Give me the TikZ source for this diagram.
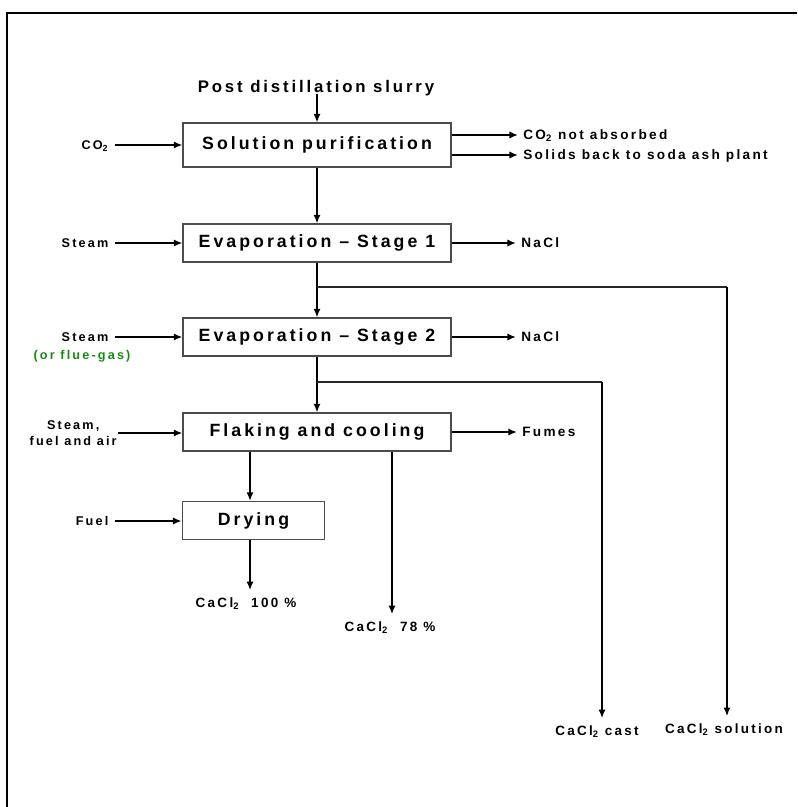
\documentclass[tikz,border=0pt]{standalone}
\usepackage{fontspec}
\setmainfont{Liberation Sans}
\newfontfamily\spaced[LetterSpace=17]{Liberation Sans}
\usetikzlibrary{arrows.meta}
\definecolor{fluegreen}{RGB}{20,140,20}

\begin{document}
\begin{tikzpicture}[
  x=0.75pt,y=-0.75pt,
  flow/.style={draw=black,line width=1.7pt,-{Latex[length=6.5pt,width=5.5pt]}},
  branch/.style={draw=black!85,line width=0.9pt},
  unit/.style={draw=black!70,line width=0.8pt,fill=white,minimum width=201pt,minimum height=28.5pt,inner sep=0pt,font=\spaced\bfseries\fontsize{13.3}{15}\selectfont},
  title/.style={font=\spaced\bfseries\fontsize{12.6}{15}\selectfont,inner sep=1pt,text height=0.72em,text depth=0pt},
  label/.style={font=\spaced\bfseries\fontsize{9.5}{12}\selectfont,inner sep=1pt,text height=0.72em,text depth=0pt},
  inlabel/.style={label,anchor=east,outer sep=4pt},
  outlabel/.style={label,anchor=west,outer sep=3pt,font=\spaced\bfseries\fontsize{10.2}{12}\selectfont},
  product/.style={label,outer sep=5pt,font=\spaced\bfseries\fontsize{10.1}{12}\selectfont},
]
\useasboundingbox (0,0) rectangle (797,807);
\draw[line width=1.7pt] (7,807) -- (7,13) -- (797,13);

% process units
\node[title] (slurry) at (316,88) {Post distillation slurry};
\node[unit,minimum height=33pt] (purif) at (317,145) {Solution purification};
\node[unit] (evap1) at (317,243) {Evaporation \textendash{} Stage 1};
\node[unit] (evap2) at (317,337) {Evaporation \textendash{} Stage 2};
\node[unit] (flake) at (317,432) {Flaking and cooling};
\node[unit,minimum width=107pt] (dry) at (253.5,520.5) {Drying};

% inputs
\node[inlabel] (co2) at (115,145) {C\,O\textsubscript{2}};
\node[inlabel] (steam1) at (115,243) {Steam};
\node[inlabel] (steam2) at (115,337) {Steam};
\node[label,text=fluegreen] (flue) at (82,355) {(or flue-gas)};
\node[label,align=center,anchor=east,text height=,text depth=,outer sep=0pt] (sfa) at (118,433) {Steam,\\fuel and air};
\node[inlabel] (fuel) at (115,521) {Fuel};

% outputs
\node[outlabel] (co2out) at (518,135) {CO\textsubscript{2} not absorbed};
\node[outlabel] (solids) at (518,155) {Solids back to soda ash plant};
\node[outlabel] (nacl1) at (516,243) {NaCl};
\node[outlabel] (nacl2) at (516,337) {NaCl};
\node[outlabel] (fumes) at (517,432) {Fumes};
\node[product] (pct100) at (246,603) {CaCl\textsubscript{2}\ \ 100 \%};
\node[product] (pct78) at (390,627) {CaCl\textsubscript{2}\ \ 78 \%};
\node[product] (cast) at (597,731) {CaCl\textsubscript{2} cast};
\node[product] (soln) at (724,729) {CaCl\textsubscript{2} solution};

\coordinate (drycol) at (250,0);
\coordinate (flakecol) at (392,0);
\coordinate (split1) at (317,287);
\coordinate (tap1) at (727,287);
\coordinate (split2) at (317,382);
\coordinate (tap2) at (602,382);

% main line
\draw[flow] (slurry.south -| purif.north) -- (purif.north);
\draw[flow] (purif) -- (evap1);
\draw[flow] (evap1) -- (evap2);
\draw[flow] (evap2) -- (flake);
\draw[flow] (flake.south -| drycol) -- (dry.north -| drycol);
\draw[flow] (dry.south -| drycol) -- (drycol |- pct100.north);
\draw[flow] (flake.south -| flakecol) -- (flakecol |- pct78.north);

% side streams
\draw[branch] (split1) -- (tap1);
\draw[flow] (tap1) -- (tap1 |- soln.north);
\draw[branch] (split2) -- (tap2);
\draw[flow] (tap2) -- (tap2 |- cast.north);

\draw[flow] (co2) -- (co2 -| purif.west);
\draw[flow] (steam1) -- (steam1 -| evap1.west);
\draw[flow] (steam2) -- (steam2 -| evap2.west);
\draw[flow] (sfa) -- (sfa -| flake.west);
\draw[flow] (fuel) -- (fuel -| dry.west);

\draw[flow] (co2out -| purif.east) -- (co2out);
\draw[flow] (solids -| purif.east) -- (solids);
\draw[flow] (nacl1 -| evap1.east) -- (nacl1);
\draw[flow] (nacl2 -| evap2.east) -- (nacl2);
\draw[flow] (fumes -| flake.east) -- (fumes);
\end{tikzpicture}
\end{document}
